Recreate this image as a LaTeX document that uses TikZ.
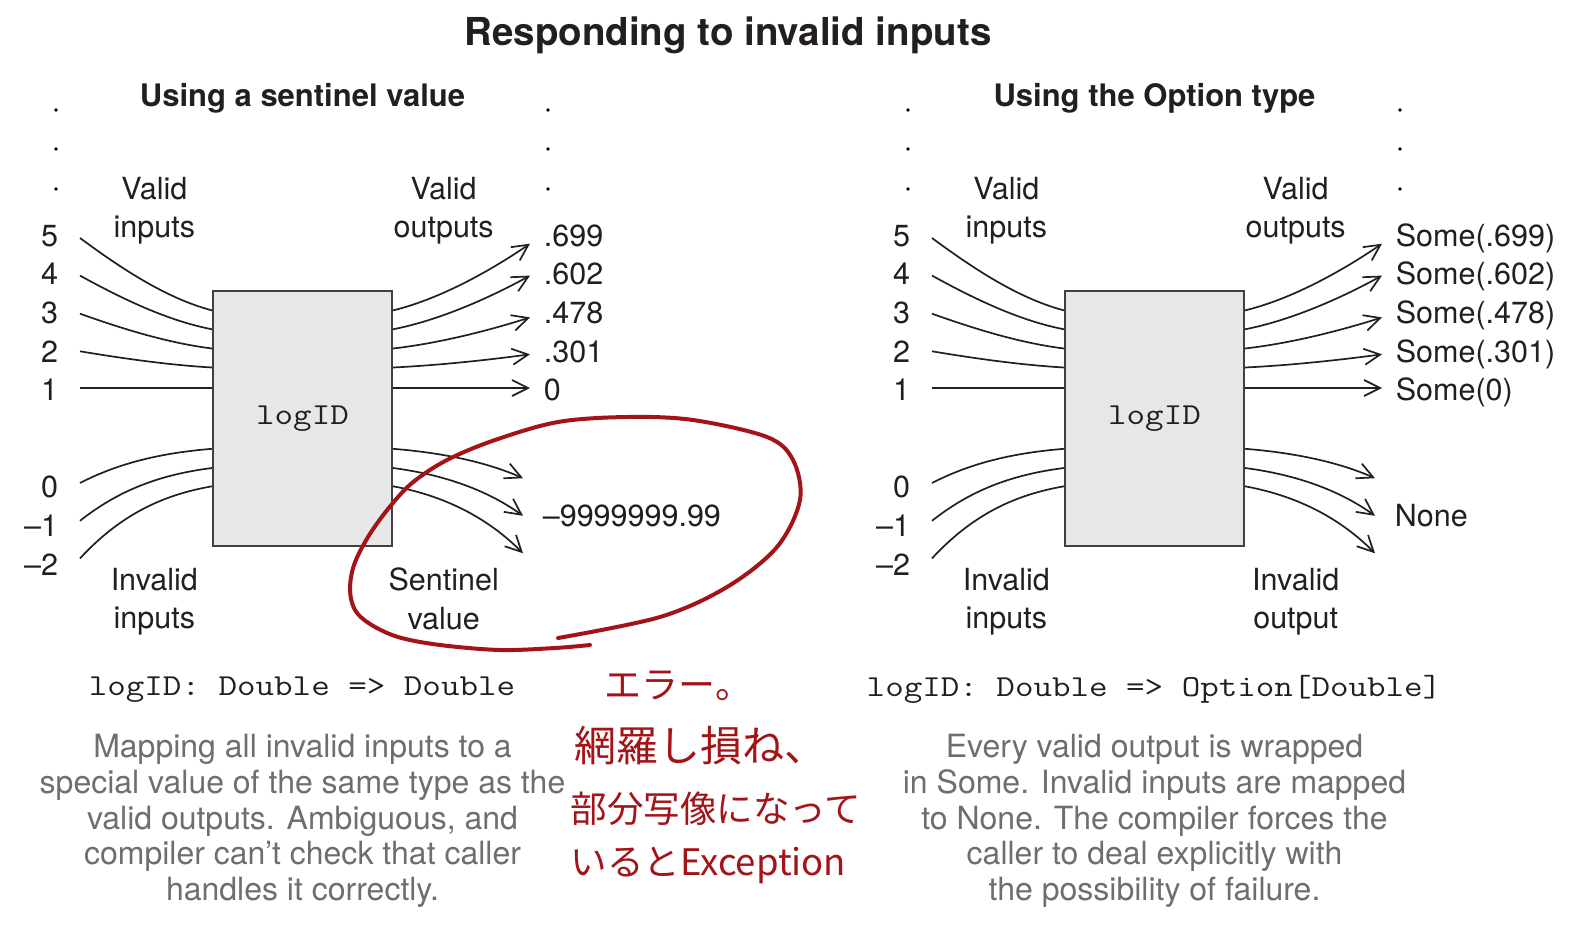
\documentclass[tikz,border=0pt]{standalone}
\usepackage{fontspec}
\setmainfont{TeX Gyre Heros}
\setmonofont{Latin Modern Mono}[FakeStretch=1.18]
\newfontfamily\handfont{Noto Sans CJK JP}
\usetikzlibrary{arrows.meta,calc}
\definecolor{ink}{HTML}{231F20}
\definecolor{frame}{HTML}{404042}
\definecolor{boxfill}{HTML}{E6E7E8}
\definecolor{caption}{HTML}{6D6E71}
\definecolor{penred}{HTML}{A31419}

\begin{document}
\begin{tikzpicture}[x=1pt, y=-1pt, text=ink, line width=1.7pt,
  every node/.style={inner sep=0pt},
  tag/.style={font=\fontsize{30.5}{38.6}\selectfont, align=center, anchor=north},
  heading/.style={font=\fontsize{31}{36}\selectfont\bfseries},
  func/.style={draw=frame, fill=boxfill, line width=2pt,
    minimum width=179pt, minimum height=254.6pt, font=\fontsize{30.5}{36}\selectfont\ttfamily},
  sig/.style={font=\fontsize{30.5}{36}\selectfont\ttfamily},
  note/.style={font=\fontsize{32}{35.8}\selectfont, text=caption, align=center},
  feed/.style={draw=ink},
  flow/.style={draw=ink, -{Straight Barb[length=16pt, width=16pt]}},
  hand/.style={anchor=west, text=penred},
  scribble/.style={draw=penred, line width=4pt, line cap=round, line join=round}]
  \useasboundingbox (0,0) rectangle (1592,950);
  \node[font=\fontsize{38.5}{42}\selectfont\bfseries] (title) at (728,35)
    {Responding to invalid inputs};

  \foreach \dx/\p/\sub/\pre/\post/\bad/\outtag/\sig/\desc in {
    0/L/{Using a sentinel value}/{}/{}/{--9999999.99}/{Sentinel\\value}/{logID: Double => Double}/%
      {Mapping all invalid inputs to a\\special value of the same type as the\\valid outputs. Ambiguous, and\\compiler can’t check that caller\\handles it correctly.},
    852/R/{Using the Option type}/{Some(}/{)}/{None}/{Invalid\\output}/{logID: Double => Option[Double]}/%
      {Every valid output is wrapped\\in Some. Invalid inputs are mapped\\to None. The compiler forces the\\caller to deal explicitly with\\the possibility of failure.}} {
  \begin{scope}[xshift=\dx pt]
    \node[heading] (sub\p) at (302.5,98) {\sub};
    \foreach \x in {56,548} \foreach \y in {110,149,189}
      \fill (\x,\y) circle (1.8pt);
    \node[func] (box\p) at (302.5,418.7) {logID};
    \node[tag] (vin\p) at (154.3,176) {Valid\\inputs};
    \node[tag] (vout\p) at (443.7,176) {Valid\\outputs};
    \node[tag] (iin\p) at (154.3,567) {Invalid\\inputs};
    \node[tag] (iout\p) at (443.7,567) {\outtag};

    % inputs bend into the left side of the box
    \foreach \v/\ny/\sy/\ey in {5/235.5/238/310.4, 4/274/275.6/329.3, 3/312.7/313.7/348.5,
        2/351.3/351.3/367.5, 1/390/388/388} {
      \node[tag, anchor=base east] (in\p\v) at (59,\ny+10.7) {\v};
      \draw[feed] ($(in\p\v.base east)+(21,\sy-\ny-10.7)$) .. controls +(44,{0.45*(\ey-\sy)}) and +(-44,{0.16*(\sy-\ey)}) .. (box\p.west |- 0,\ey);
    }
    \foreach \v/\t/\ny/\sy/\ey in {0/0/487/483/448.8, m1/--1/526/520.8/468, m2/--2/564.5/558.4/486.3} {
      \node[tag, anchor=base east] (in\p\v) at (59,\ny+10.7) {\t};
      \draw[feed] ($(in\p\v.base east)+(21,\sy-\ny-10.7)$) .. controls +(40,{0.6*(\ey-\sy)}) and +(-50,{0.12*(\sy-\ey)}) .. (box\p.west |- 0,\ey);
    }

    % valid outputs fan out
    \foreach \o/\ey/\ty/\ly [count=\i] in {.699/310.4/243.7/235.5, .602/329.3/275.6/274,
        .478/348.5/317.4/312.7, .301/367.5/354.3/351.3, 0/388/388/390} {
      \node[tag, anchor=base west] (out\p\i) at (543,\ly+10.7) {\pre\o\post};
      \draw[flow] (box\p.east |- 0,\ey) .. controls +(44,{0.16*(\ty-\ey)}) and +(-44,{0.45*(\ey-\ty)}) .. ($(out\p\i.base west)+(-13,\ty-\ly-10.7)$);
    }
    \node[tag, anchor=base west] (bad\p) at (542,526.5) {\bad};
    \foreach \ey/\ty in {448.8/478.2, 468/515.8, 486.3/553.3}
      \draw[flow] (box\p.east |- 0,\ey) .. controls +(44,{0.12*(\ty-\ey)}) and +(-40,{0.6*(\ey-\ty)}) .. ($(bad\p.base west)+(-19,\ty-526.5)$);

    \node[sig] (sig\p) at (302,689.4) {\sig};
    \node[note] (desc\p) at (302.5,821) {\desc};
  \end{scope}
  }

  % hand-drawn remark over the sentinel side
  \draw[scribble] plot[smooth, tension=0.55] coordinates {(558,638) (660,617) (727,587)
    (777,547) (800,500) (793,460) (767,437) (693,420) (627,417) (558,422) (495,440)
    (447,460) (412,483) (388,509) (368,537) (354,565) (350,590) (355,610) (370,624)
    (398,637) (440,645) (500,650) (555,648) (590,645)};
  \node[hand, font=\handfont\fontsize{37}{40}\selectfont] (err) at (604,686) {エラー。};
  \node[hand, font=\handfont\fontsize{42}{44}\selectfont] (miss) at (574,746) {網羅し損ね、};
  \node[hand, font=\handfont\fontsize{36.5}{40}\selectfont] (part) at (570,809) {部分写像になって};
  \node[hand, font=\handfont\fontsize{36.5}{40}\selectfont] (exc) at (570,865) {いるとException};
\end{tikzpicture}
\end{document}
